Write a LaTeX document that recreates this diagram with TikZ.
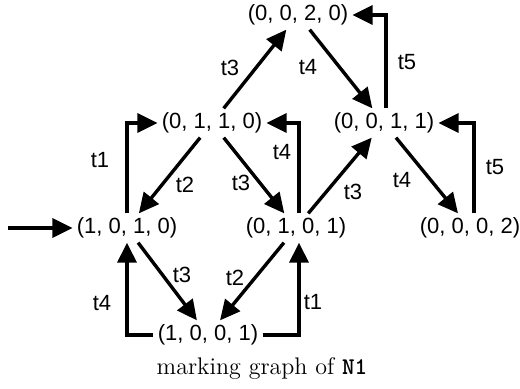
\documentclass[tikz,border=0pt]{standalone}
\usepackage{fontspec}
\usetikzlibrary{arrows.meta}
\newfontfamily\helv{Liberation Sans}

\tikzset{
  mk/.style={font=\helv\fontsize{11}{13}\selectfont, inner sep=2pt},
  tr/.style={font=\helv\fontsize{11}{13}\selectfont, inner sep=0pt},
  arc/.style={line width=1.7pt, -{Triangle[length=10pt,width=9.5pt]}},
}

\begin{document}
\begin{tikzpicture}[x=0.5pt,y=-0.5pt]
\useasboundingbox (0,0) rectangle (520,388);
% markings
\node[mk] (m0020) at (298,15)  {(0, 0, 2, 0)};
\node[mk] (m0110) at (212,123) {(0, 1, 1, 0)};
\node[mk] (m0011) at (384,123) {(0, 0, 1, 1)};
\node[mk] (m1010) at (127,228) {(1, 0, 1, 0)};
\node[mk] (m0101) at (296,228) {(0, 1, 0, 1)};
\node[mk] (m0002) at (470,228) {(0, 0, 0, 2)};
\node[mk] (m1001) at (208,335) {(1, 0, 0, 1)};
% initial marking
\coordinate (init) at (8,228);
\draw[arc] (init) -- (m1010);
% diagonal firings
\draw[arc] (m0110) -- (m1010);
\draw[arc] (m0110) -- (m0020);
\draw[arc] (m0110) -- (m0101);
\draw[arc] (m0020) -- (m0011);
\draw[arc] (m0101) -- (m0011);
\draw[arc] (m0011) -- (m0002);
\draw[arc] (m1010) -- (m1001);
\draw[arc] (m0101) -- (m1001);
% elbow firings
\draw[arc] (m1010.north) |- (m0110.west);
\draw[arc] ([xshift=1.5pt]m0101.north) |- (m0110.east);
\draw[arc] ([xshift=1pt]m0011.north) |- (m0020.east);
\draw[arc] ([xshift=2pt]m0002.north) |- (m0011.east);
\draw[arc] (m1001.west) -| (m1010.south);
\draw[arc] (m1001.east) -| ([xshift=1.5pt]m0101.south);
% transition labels
\node[tr] (t1a) at (100,160) {t1};
\node[tr] (t2a) at (185,185) {t2};
\node[tr] (t3a) at (230,68)  {t3};
\node[tr] (t3b) at (241,183) {t3};
\node[tr] (t4a) at (308,67)  {t4};
\node[tr] (t5a) at (407,62)  {t5};
\node[tr] (t4b) at (282,152) {t4};
\node[tr] (t3c) at (353,192) {t3};
\node[tr] (t4c) at (402,180) {t4};
\node[tr] (t5b) at (495,167) {t5};
\node[tr] (t3d) at (182,275) {t3};
\node[tr] (t2b) at (235,278) {t2};
\node[tr] (t4d) at (102,303) {t4};
\node[tr] (t1b) at (313,302) {t1};
% caption
\node[font=\fontsize{12}{14}\selectfont] (cap) at (262,368) {marking graph of {\ttfamily\bfseries N1}};
\end{tikzpicture}
\end{document}
